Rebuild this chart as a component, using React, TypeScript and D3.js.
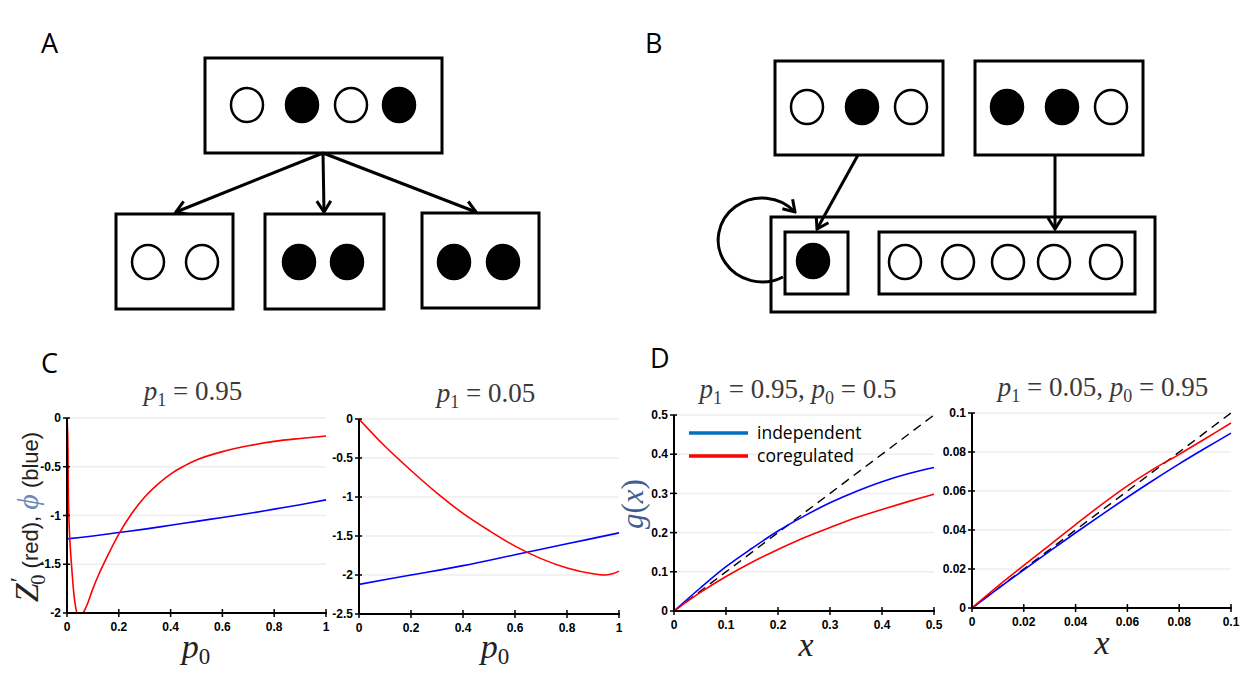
import React from "react";
import * as d3 from "d3";

// ---------- DATA ----------
// Panel C, left (p1 = 0.95)
const cLeftRedX = [0.001, 0.003, 0.006, 0.01, 0.015, 0.02, 0.025, 0.03, 0.035, 0.04, 0.05, 0.06, 0.07, 0.08, 0.1, 0.12, 0.15, 0.2, 0.25, 0.3, 0.35, 0.4, 0.45, 0.5, 0.6, 0.7, 0.8, 0.9, 1.0];
const cLeftRedY = [-0.05, -0.2, -0.9, -1.2, -1.42, -1.6, -1.76, -1.88, -1.96, -2.01, -2.03, -2.01, -1.96, -1.9, -1.75, -1.62, -1.45, -1.19, -0.98, -0.81, -0.68, -0.575, -0.495, -0.43, -0.345, -0.285, -0.24, -0.21, -0.185];
const cLeftBlueX = [0, 0.1, 0.2, 0.3, 0.4, 0.5, 0.6, 0.7, 0.8, 0.9, 1.0];
const cLeftBlueY = [-1.24, -1.21, -1.175, -1.14, -1.1, -1.06, -1.02, -0.98, -0.935, -0.89, -0.84];
// Panel C, right (p1 = 0.05)
const cRightRedX = [0, 0.1, 0.2, 0.3, 0.4, 0.5, 0.6, 0.7, 0.8, 0.9, 0.95, 0.975, 1.0];
const cRightRedY = [0, -0.35, -0.66, -0.95, -1.21, -1.43, -1.63, -1.79, -1.91, -1.985, -2.0, -1.985, -1.95];
const cRightBlueX = [0, 0.2, 0.4, 0.6, 0.8, 1.0];
const cRightBlueY = [-2.12, -2.0, -1.88, -1.74, -1.6, -1.46];
// Panel D, left (p1 = 0.95, p0 = 0.5)
const dLeftX = [0, 0.05, 0.1, 0.15, 0.2, 0.25, 0.3, 0.35, 0.4, 0.45, 0.5];
const dLeftIndependent = [0, 0.058, 0.113, 0.16, 0.204, 0.242, 0.276, 0.305, 0.33, 0.35, 0.366];
const dLeftCoregulated = [0, 0.0468, 0.088, 0.1245, 0.157, 0.187, 0.213, 0.238, 0.259, 0.279, 0.298];
// Panel D, right (p1 = 0.05, p0 = 0.95)
const dRightX = [0, 0.01, 0.02, 0.03, 0.04, 0.05, 0.06, 0.07, 0.08, 0.09, 0.1];
const dRightIndependent = [0, 0.0099, 0.0196, 0.0292, 0.0386, 0.0478, 0.0568, 0.0655, 0.0739, 0.0819, 0.0897];
const dRightCoregulated = [0, 0.0112, 0.0218, 0.0323, 0.0428, 0.053, 0.0626, 0.0712, 0.0788, 0.0868, 0.0949];

// Tick labels
const cXTicks = [0, 0.2, 0.4, 0.6, 0.8, 1];
const cLeftYTicks = [0, -0.5, -1, -1.5, -2];
const cRightYTicks = [0, -0.5, -1, -1.5, -2, -2.5];
const dLeftXTicks = [0, 0.1, 0.2, 0.3, 0.4, 0.5];
const dLeftYTicks = [0, 0.1, 0.2, 0.3, 0.4, 0.5];
const dRightXTicks = [0, 0.02, 0.04, 0.06, 0.08, 0.1];
const dRightYTicks = [0, 0.02, 0.04, 0.06, 0.08, 0.1];

// Legend
const legendLabels = ["independent", "coregulated"];

// Diagram states (1 = filled, 0 = open)
const aTop = [0, 1, 0, 1];
const aChildren = [[0, 0], [1, 1], [1, 1]];
const bTopLeft = [0, 1, 0];
const bTopRight = [1, 1, 0];
const bSelf = [1];
const bRest = [0, 0, 0, 0, 0];

// ---------- STYLE ----------
const RED = "#ff0000";
const BLUE = "#0000ff";
const LEG_BLUE = "#0070c0";
const SANS = "'Liberation Sans', Arial, sans-serif";
const LABEL_FONT = "'Open Sans', 'Liberation Sans', sans-serif";
const MATH = "'Liberation Serif', 'DejaVu Serif', serif";

type Series = { xs: number[]; ys: number[]; color: string; dash?: string; width?: number };

function Plot(props: {
  id: string;
  x0: number; x1: number; yTop: number; yBot: number;
  xDomain: [number, number]; yDomain: [number, number];
  xTicks: number[]; yTicks: number[];
  series: Series[];
}) {
  const { id, x0, x1, yTop, yBot, xDomain, yDomain, xTicks, yTicks, series } = props;
  const x = d3.scaleLinear().domain(xDomain).range([x0, x1]);
  const y = d3.scaleLinear().domain(yDomain).range([yBot, yTop]);
  const fmt = (v: number) => String(+v.toFixed(4));
  return (
    <g>
      <defs>
        <clipPath id={id}>
          <rect x={x0} y={yTop - 2} width={x1 - x0 + 2} height={yBot - yTop + 2} />
        </clipPath>
      </defs>
      {yTicks.map((t) => (
        <line key={"g" + t} x1={x0} x2={x1} y1={y(t)} y2={y(t)} stroke="#eeeeee" strokeWidth={1.5} />
      ))}
      <g clipPath={`url(#${id})`}>
        {series.map((s, i) => {
          const pts = s.xs.map((v, j) => [v, s.ys[j]] as [number, number]);
          const line = d3.line<[number, number]>().x((d) => x(d[0])).y((d) => y(d[1])).curve(d3.curveCatmullRom.alpha(0.5));
          return (
            <path key={i} d={line(pts) || ""} fill="none" stroke={s.color} strokeWidth={s.width ?? 1.6}
              strokeDasharray={s.dash} />
          );
        })}
      </g>
      <line x1={x0} x2={x1 + 1} y1={yBot} y2={yBot} stroke="#000" strokeWidth={2} />
      <line x1={x0} x2={x0} y1={yTop} y2={yBot} stroke="#000" strokeWidth={2} />
      {xTicks.map((t) => (
        <g key={"x" + t}>
          <line x1={x(t)} x2={x(t)} y1={yBot - 4} y2={yBot + 4} stroke="#000" strokeWidth={1.5} />
          <text x={x(t)} y={yBot + 18} textAnchor="middle" fontFamily={SANS} fontWeight="bold" fontSize={12} fill="#000">
            {fmt(t)}
          </text>
        </g>
      ))}
      {yTicks.map((t) => (
        <g key={"y" + t}>
          <line x1={x0 - 4} x2={x0 + 3} y1={y(t)} y2={y(t)} stroke="#000" strokeWidth={1.5} />
          <text x={x0 - 6} y={y(t)} dy="0.35em" textAnchor="end" fontFamily={SANS} fontWeight="bold" fontSize={12} fill="#000">
            {fmt(t)}
          </text>
        </g>
      ))}
    </g>
  );
}

function Title(props: { cx: number; y: number; parts: { sub: string; val: string }[] }) {
  const { cx, y, parts } = props;
  return (
    <text x={cx} y={y} textAnchor="middle" fontFamily={MATH} fontSize={27} fill="#3a3a3a">
      {parts.map((p, i) => (
        <React.Fragment key={i}>
          {i > 0 ? <tspan>{",  "}</tspan> : null}
          <tspan fontStyle="italic">p</tspan>
          <tspan fontSize={18} dy={6}>{p.sub}</tspan>
          <tspan dy={-6}>{" = " + p.val}</tspan>
        </React.Fragment>
      ))}
    </text>
  );
}

function Dots(props: { states: number[]; xs: number[]; cy: number }) {
  return (
    <g>
      {props.states.map((s, i) => (
        <ellipse key={i} cx={props.xs[i]} cy={props.cy} rx={16} ry={17}
          fill={s ? "#000" : "#fff"} stroke="#000" strokeWidth={2.5} />
      ))}
    </g>
  );
}

function Box(props: { x: number; y: number; w: number; h: number }) {
  return <rect x={props.x} y={props.y} width={props.w} height={props.h} fill="#fff" stroke="#000" strokeWidth={3} />;
}

export default function App() {
  const pLabel = (x: number, y: number) => (
    <text x={x} y={y} textAnchor="middle" fontFamily={MATH} fontSize={34} fill="#222">
      <tspan fontStyle="italic">p</tspan>
      <tspan fontSize={23} dy={6}>0</tspan>
    </text>
  );
  return (
    <div style={{ position: "absolute", left: 0, top: 0 }}>
      <svg width={1241} height={680} viewBox="0 0 1241 680" style={{ display: "block", background: "#fff" }}>
        <defs>
          <marker id="arr" viewBox="-14 -10 16 20" refX={0} refY={0} markerWidth={16} markerHeight={20}
            markerUnits="userSpaceOnUse" orient="auto">
            <path d="M-11,-7 L0,0 L-11,7" fill="none" stroke="#000" strokeWidth={3} />
          </marker>
        </defs>

        {/* Panel letters */}
        <text x={41} y={53} fontFamily={LABEL_FONT} fontSize={27} fill="#000">A</text>
        <text x={645} y={53} fontFamily={LABEL_FONT} fontSize={27} fill="#000">B</text>
        <text x={41} y={373} fontFamily={LABEL_FONT} fontSize={27} fill="#000">C</text>
        <text x={650} y={368} fontFamily={LABEL_FONT} fontSize={27} fill="#000">D</text>

        {/* Panel A */}
        <Box x={205} y={58} w={237} h={95} />
        <Dots states={aTop} xs={[247, 302, 351, 399]} cy={105} />
        <line x1={323} y1={153} x2={176} y2={212} stroke="#000" strokeWidth={3} markerEnd="url(#arr)" />
        <line x1={323} y1={153} x2={324} y2={212} stroke="#000" strokeWidth={3} markerEnd="url(#arr)" />
        <line x1={323} y1={153} x2={476} y2={212} stroke="#000" strokeWidth={3} markerEnd="url(#arr)" />
        <Box x={116} y={214} w={117} h={95} />
        <Box x={265} y={214} w={119} h={95} />
        <Box x={422} y={213} w={117} h={95} />
        <Dots states={aChildren[0]} xs={[148, 202]} cy={262} />
        <Dots states={aChildren[1]} xs={[299, 347]} cy={262} />
        <Dots states={aChildren[2]} xs={[454, 503]} cy={262} />

        {/* Panel B */}
        <Box x={775} y={61} w={168} h={94} />
        <Box x={975} y={61} w={168} h={94} />
        <Dots states={bTopLeft} xs={[807, 862, 911]} cy={107} />
        <Dots states={bTopRight} xs={[1007, 1062, 1111]} cy={107} />
        <Box x={771} y={217} w={384} h={95} />
        <Box x={785} y={232} w={63} h={62} />
        <Box x={879} y={232} w={256} h={62} />
        <Dots states={bSelf} xs={[813]} cy={261} />
        <Dots states={bRest} xs={[905, 958, 1008, 1054, 1106]} cy={262} />
        <line x1={858} y1={155} x2={817} y2={229} stroke="#000" strokeWidth={3} markerEnd="url(#arr)" />
        <line x1={1055} y1={155} x2={1055} y2={229} stroke="#000" strokeWidth={3} markerEnd="url(#arr)" />
        <path d="M783,277 A44,42 0 1 1 795,212" fill="none" stroke="#000" strokeWidth={3} markerEnd="url(#arr)" />

        {/* Panel C left */}
        <Title cx={193} y={400} parts={[{ sub: "1", val: "0.95" }]} />
        <Plot id="cl" x0={67} x1={326} yTop={418} yBot={613} xDomain={[0, 1]} yDomain={[-2, 0]}
          xTicks={cXTicks} yTicks={cLeftYTicks}
          series={[
            { xs: cLeftBlueX, ys: cLeftBlueY, color: BLUE },
            { xs: cLeftRedX, ys: cLeftRedY, color: RED },
          ]} />
        {pLabel(196, 658)}
        <g transform="translate(38,517) rotate(-90)">
          <text textAnchor="middle" fill="#222">
            <tspan fontFamily={MATH} fontStyle="italic" fontSize={34}>Z</tspan>
            <tspan fontFamily={MATH} fontSize={24} dy={-12} dx={1}>′</tspan>
            <tspan fontFamily={MATH} fontSize={21} dy={19} dx={-8}>0</tspan>
            <tspan fontFamily={SANS} fontSize={22} dy={-7}>{" (red),   "}</tspan>
            <tspan fontFamily={MATH} fontStyle="italic" fontSize={30} fill="#6a88b8">ϕ</tspan>
            <tspan fontFamily={SANS} fontSize={22}>{" (blue)"}</tspan>
          </text>
        </g>

        {/* Panel C right */}
        <Title cx={486} y={402} parts={[{ sub: "1", val: "0.05" }]} />
        <Plot id="cr" x0={359} x1={619} yTop={419} yBot={614} xDomain={[0, 1]} yDomain={[-2.5, 0]}
          xTicks={cXTicks} yTicks={cRightYTicks}
          series={[
            { xs: cRightBlueX, ys: cRightBlueY, color: BLUE },
            { xs: cRightRedX, ys: cRightRedY, color: RED },
          ]} />
        {pLabel(495, 658)}

        {/* Panel D left */}
        <Title cx={798} y={398} parts={[{ sub: "1", val: "0.95" }, { sub: "0", val: "0.5" }]} />
        <Plot id="dl" x0={674} x1={934} yTop={415} yBot={611} xDomain={[0, 0.5]} yDomain={[0, 0.5]}
          xTicks={dLeftXTicks} yTicks={dLeftYTicks}
          series={[
            { xs: [0, 0.5], ys: [0, 0.5], color: "#000", dash: "9,6", width: 1.4 },
            { xs: dLeftX, ys: dLeftIndependent, color: BLUE },
            { xs: dLeftX, ys: dLeftCoregulated, color: RED },
          ]} />
        <g transform="translate(643,504) rotate(-90)">
          <text textAnchor="middle" fontFamily={MATH} fontStyle="italic" fontSize={31} fill="#3d5f93">
            <tspan>g</tspan><tspan fontStyle="normal">(</tspan><tspan>x</tspan><tspan fontStyle="normal">)</tspan>
          </text>
        </g>
        {legendLabels.map((lab, i) => (
          <g key={lab}>
            <line x1={689} x2={748} y1={433 + i * 23} y2={433 + i * 23} stroke={i === 0 ? LEG_BLUE : RED} strokeWidth={3.5} />
            <text x={757} y={439 + i * 23} fontFamily={LABEL_FONT} fontSize={17.5} fill="#000">{lab}</text>
          </g>
        ))}
        <text x={806} y={656} textAnchor="middle" fontFamily={MATH} fontStyle="italic" fontSize={34} fill="#222">x</text>

        {/* Panel D right */}
        <Title cx={1103} y={396} parts={[{ sub: "1", val: "0.05" }, { sub: "0", val: "0.95" }]} />
        <Plot id="dr" x0={972} x1={1231} yTop={413} yBot={608} xDomain={[0, 0.1]} yDomain={[0, 0.1]}
          xTicks={dRightXTicks} yTicks={dRightYTicks}
          series={[
            { xs: [0, 0.1], ys: [0, 0.1], color: "#000", dash: "9,6", width: 1.4 },
            { xs: dRightX, ys: dRightIndependent, color: BLUE },
            { xs: dRightX, ys: dRightCoregulated, color: RED },
          ]} />
        <text x={1102} y={654} textAnchor="middle" fontFamily={MATH} fontStyle="italic" fontSize={34} fill="#222">x</text>
      </svg>
    </div>
  );
}
